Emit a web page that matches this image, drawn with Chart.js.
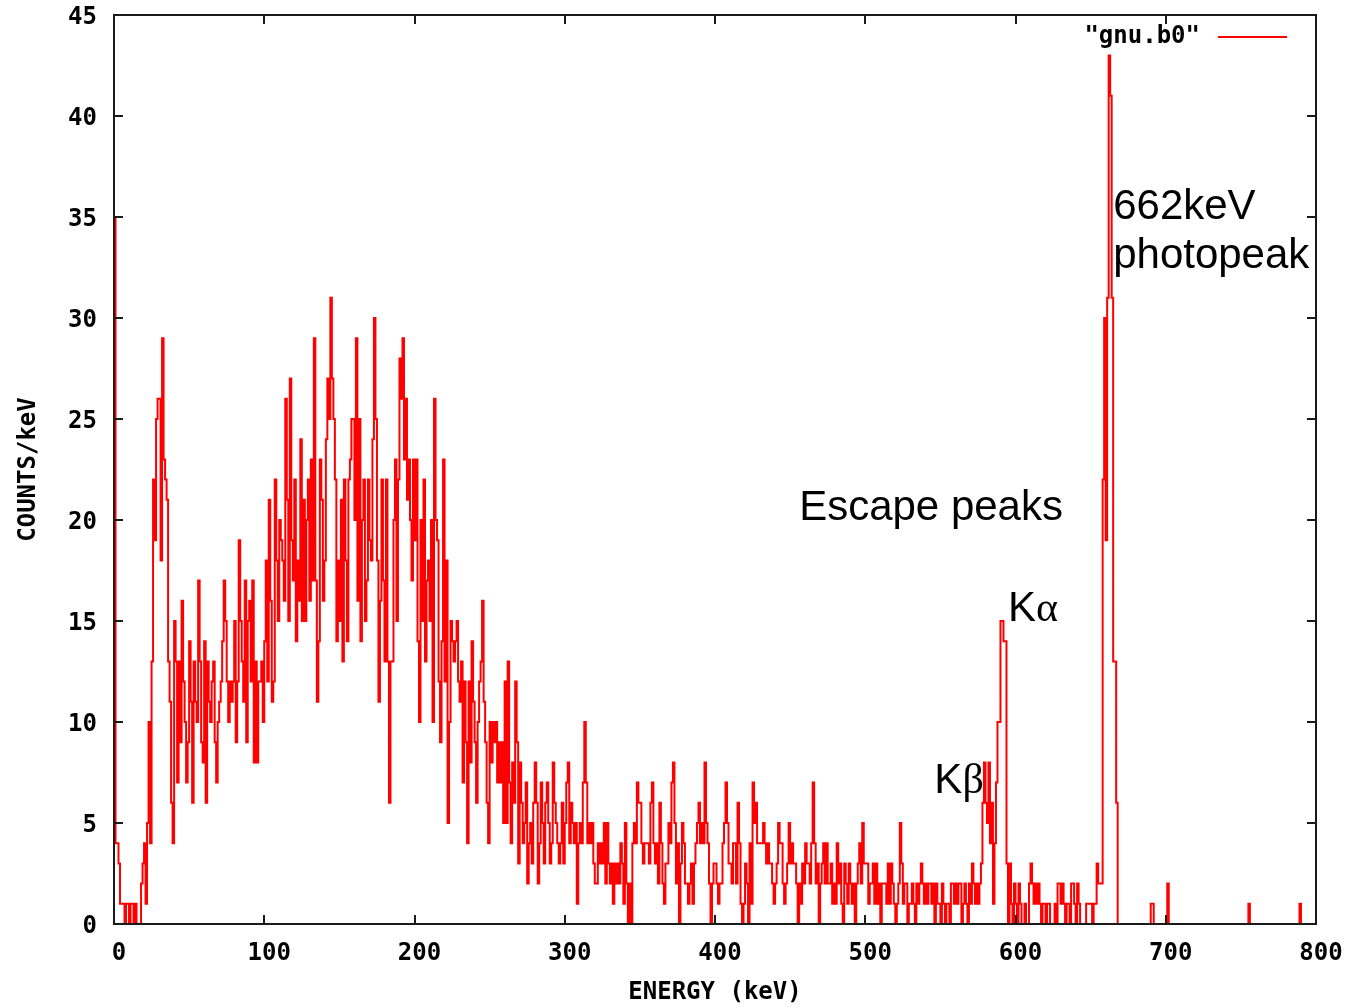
<!DOCTYPE html>
<html>
<head>
<meta charset="utf-8">
<title>gnu.b0 spectrum</title>
<script src="https://cdn.jsdelivr.net/npm/chart.js@4.4.1/dist/chart.umd.min.js"></script>
<style>
html, body { margin: 0; padding: 0; background: #fff; }
#wrap { position: relative; width: 1351px; height: 1008px; }
</style>
</head>
<body>
<div id="wrap"><canvas id="spectrum"></canvas></div>
<script>
"use strict";

const SERIES_LABEL = '"gnu.b0"';
const X_TITLE = "ENERGY (keV)";
const Y_TITLE = "COUNTS/keV";
const X_TICKS = [0, 100, 200, 300, 400, 500, 600, 700, 800];
const Y_TICKS = [0, 5, 10, 15, 20, 25, 30, 35, 40, 45];

// counts per 1 keV bin, one array per 100 keV block
const counts000 = [
    35, 4, 4, 3, 1, 1, 1, 0, 1, 1,
    0, 1, 1, 0, 1, 0, 0, 0, 2, 3,
    4, 1, 5, 10, 4, 13, 22, 19, 25, 26,
    26, 18, 29, 23, 22, 21, 13, 11, 6, 4,
    15, 13, 7, 13, 9, 16, 12, 10, 7, 9,
    14, 11, 6, 13, 11, 10, 17, 13, 9, 8,
    14, 6, 13, 11, 10, 12, 13, 9, 7, 10,
    11, 12, 14, 17, 15, 12, 10, 12, 11, 12,
    15, 9, 12, 19, 15, 13, 11, 17, 9, 15,
    16, 12, 17, 8, 13, 8, 12, 12, 13, 10
];
const counts100 = [
    14, 18, 12, 21, 16, 11, 12, 22, 18, 15,
    20, 19, 18, 16, 26, 21, 15, 27, 19, 17,
    22, 14, 18, 16, 24, 15, 21, 15, 20, 22,
    16, 23, 17, 29, 17, 11, 14, 23, 21, 16,
    18, 24, 27, 25, 31, 27, 25, 22, 14, 18,
    15, 21, 13, 22, 18, 14, 22, 23, 25, 25,
    20, 29, 16, 25, 14, 20, 22, 15, 17, 22,
    19, 18, 24, 30, 25, 18, 11, 16, 22, 17,
    13, 22, 13, 6, 13, 13, 20, 23, 15, 22,
    28, 26, 29, 23, 26, 21, 23, 20, 17, 23
];
const counts200 = [
    19, 23, 14, 10, 20, 15, 22, 13, 17, 18,
    15, 20, 10, 26, 20, 19, 12, 9, 14, 23,
    12, 18, 5, 10, 15, 14, 13, 14, 15, 12,
    11, 13, 7, 12, 9, 4, 12, 8, 14, 11,
    9, 6, 10, 12, 13, 16, 11, 9, 6, 4,
    10, 8, 10, 9, 10, 7, 9, 7, 9, 5,
    12, 5, 13, 7, 4, 8, 6, 12, 9, 3,
    8, 6, 4, 5, 7, 2, 4, 5, 3, 6,
    8, 6, 2, 4, 7, 5, 3, 6, 7, 5,
    3, 4, 8, 6, 5, 4, 3, 4, 6, 3
];
const counts300 = [
    5, 7, 8, 4, 6, 5, 4, 5, 1, 4,
    5, 4, 7, 10, 7, 4, 5, 4, 5, 3,
    2, 2, 4, 3, 4, 3, 5, 2, 5, 3,
    2, 3, 1, 3, 2, 3, 2, 4, 3, 1,
    5, 2, 0, 2, 0, 4, 5, 4, 7, 6,
    6, 4, 3, 4, 4, 4, 3, 6, 7, 4,
    3, 4, 2, 6, 4, 2, 1, 3, 3, 5,
    4, 7, 8, 5, 2, 4, 0, 3, 5, 4,
    2, 2, 1, 2, 3, 1, 3, 4, 5, 6,
    4, 5, 4, 8, 5, 4, 2, 0, 2, 3
];
const counts400 = [
    3, 2, 1, 2, 2, 4, 5, 7, 5, 3,
    3, 2, 4, 4, 2, 6, 4, 1, 0, 1,
    3, 2, 0, 4, 1, 7, 5, 6, 4, 4,
    4, 4, 5, 4, 3, 4, 3, 3, 2, 1,
    2, 3, 5, 4, 4, 2, 1, 2, 3, 5,
    3, 4, 3, 3, 2, 0, 2, 1, 3, 2,
    4, 3, 3, 2, 4, 7, 4, 2, 3, 0,
    2, 3, 4, 2, 4, 2, 2, 3, 1, 2,
    1, 4, 2, 3, 1, 0, 3, 2, 1, 3,
    2, 1, 2, 0, 2, 3, 4, 2, 5, 3
];
const counts500 = [
    3, 3, 1, 2, 2, 3, 1, 3, 1, 2,
    0, 2, 2, 2, 1, 3, 1, 3, 2, 1,
    0, 1, 2, 5, 3, 1, 2, 2, 0, 1,
    1, 2, 1, 0, 2, 1, 2, 3, 2, 1,
    2, 1, 2, 2, 1, 2, 0, 2, 1, 1,
    0, 2, 1, 0, 1, 1, 0, 2, 2, 1,
    2, 1, 2, 2, 0, 1, 2, 1, 0, 2,
    1, 3, 2, 1, 2, 1, 2, 3, 6, 8,
    6, 5, 8, 4, 6, 1, 4, 7, 10, 10,
    15, 15, 14, 14, 3, 0, 3, 1, 0, 2
];
const counts600 = [
    1, 0, 2, 1, 0, 0, 1, 0, 0, 2,
    3, 2, 1, 2, 1, 2, 1, 0, 1, 1,
    0, 1, 1, 0, 0, 0, 1, 0, 2, 2,
    1, 2, 1, 0, 1, 1, 0, 2, 2, 1,
    0, 2, 1, 0, 0, 0, 0, 1, 1, 1,
    1, 0, 1, 1, 3, 2, 2, 2, 22, 30,
    19, 31, 43, 41, 31, 13, 13, 6, 0, 0,
    0, 0, 0, 0, 0, 0, 0, 0, 0, 0,
    0, 0, 0, 0, 0, 0, 0, 0, 0, 0,
    1, 1, 0, 0, 0, 0, 0, 0, 0, 0
];
const counts700 = [
    0, 2, 0, 0, 0, 0, 0, 0, 0, 0,
    0, 0, 0, 0, 0, 0, 0, 0, 0, 0,
    0, 0, 0, 0, 0, 0, 0, 0, 0, 0,
    0, 0, 0, 0, 0, 0, 0, 0, 0, 0,
    0, 0, 0, 0, 0, 0, 0, 0, 0, 0,
    0, 0, 0, 0, 0, 1, 0, 0, 0, 0,
    0, 0, 0, 0, 0, 0, 0, 0, 0, 0,
    0, 0, 0, 0, 0, 0, 0, 0, 0, 0,
    0, 0, 0, 0, 0, 0, 0, 0, 0, 1,
    0, 0, 0, 0, 0, 0, 0, 0, 0, 0
];

const BLOCKS = [
    [0, counts000], [100, counts100], [200, counts200], [300, counts300],
    [400, counts400], [500, counts500], [600, counts600], [700, counts700]
];

const TICK_FONT = { family: "'DejaVu Sans Mono', monospace", size: 24, weight: "bold" };
const NOTE_FONT = "42px 'Liberation Sans', Arial, sans-serif";
const GREEK_FONT = "42px 'Liberation Serif', 'DejaVu Serif', serif";
const TICK_LEN = 9;

// text notes, anchored at (keV, counts) for the left end of the baseline
const NOTES = [
    { parts: [["662keV", NOTE_FONT]], at: [665, 34.9] },
    { parts: [["photopeak", NOTE_FONT]], at: [665, 32.5] },
    { parts: [["Escape peaks", NOTE_FONT]], at: [456, 20.0] },
    { parts: [["K", NOTE_FONT], ["\u03b1", GREEK_FONT]], at: [595, 15.0] },
    { parts: [["K", NOTE_FONT], ["\u03b2", GREEK_FONT]], at: [546, 6.5] }
];

function points() {
    const out = [];
    for (const [start, vals] of BLOCKS) {
        vals.forEach((v, i) => out.push({ x: start + i, y: v }));
    }
    return out;
}

const framePlugin = {
    id: "frame",
    afterDatasetsDraw(chart) {
        const { ctx, chartArea: a, scales: { x, y } } = chart;
        ctx.save();
        ctx.strokeStyle = "#1a1a1a";
        ctx.lineWidth = 2;
        ctx.strokeRect(a.left, a.top, a.right - a.left, a.bottom - a.top);
        ctx.beginPath();
        for (const v of X_TICKS) {
            const px = Math.round(x.getPixelForValue(v));
            ctx.moveTo(px, a.bottom); ctx.lineTo(px, a.bottom - TICK_LEN);
            ctx.moveTo(px, a.top); ctx.lineTo(px, a.top + TICK_LEN);
        }
        for (const v of Y_TICKS) {
            const py = Math.round(y.getPixelForValue(v));
            ctx.moveTo(a.left, py); ctx.lineTo(a.left + TICK_LEN, py);
            ctx.moveTo(a.right, py); ctx.lineTo(a.right - TICK_LEN, py);
        }
        ctx.stroke();
        ctx.restore();
    },
    afterDraw(chart) {
        const { ctx, chartArea: a, scales: { x, y } } = chart;
        ctx.save();
        // key, top right inside the frame
        const ds = chart.data.datasets[0];
        ctx.font = `${TICK_FONT.weight} ${TICK_FONT.size}px ${TICK_FONT.family}`;
        ctx.fillStyle = "#000";
        ctx.textAlign = "right";
        ctx.textBaseline = "middle";
        const ky = a.top + 22;
        ctx.fillText(ds.label, a.right - 116, ky);
        ctx.strokeStyle = ds.borderColor;
        ctx.lineWidth = 2;
        ctx.beginPath();
        ctx.moveTo(a.right - 98, ky);
        ctx.lineTo(a.right - 29, ky);
        ctx.stroke();

        // notes
        ctx.textAlign = "left";
        ctx.textBaseline = "alphabetic";
        for (const n of NOTES) {
            let px = x.getPixelForValue(n.at[0]);
            const py = y.getPixelForValue(n.at[1]);
            for (const [txt, font] of n.parts) {
                ctx.font = font;
                ctx.fillText(txt, px, py);
                px += ctx.measureText(txt).width;
            }
        }
        ctx.restore();
    }
};

document.addEventListener("DOMContentLoaded", () => {
    const ctx = document.getElementById("spectrum").getContext("2d");
    new Chart(ctx, {
        type: "line",
        data: {
            datasets: [{
                label: SERIES_LABEL,
                data: points(),
                borderColor: "#ff0000",
                borderWidth: 2,
                pointRadius: 0,
                stepped: "before",
                fill: false,
                tension: 0
            }]
        },
        options: {
            responsive: true,
            maintainAspectRatio: false,
            animation: false,
            events: [],
            layout: { padding: { left: 0, top: 15, right: 35, bottom: 0 } },
            plugins: { legend: { display: false }, tooltip: { enabled: false } },
            scales: {
                x: {
                    type: "linear",
                    min: 0, max: 800,
                    afterBuildTicks: s => { s.ticks = X_TICKS.map(v => ({ value: v })); },
                    afterFit: s => { s.height = 84; s.paddingLeft = 0; s.paddingRight = 0; },
                    grid: { display: false, drawTicks: false },
                    border: { display: false },
                    ticks: { font: TICK_FONT, color: "#000", padding: 15, maxRotation: 0, autoSkip: false, labelOffset: 5 },
                    title: { display: true, text: X_TITLE, font: TICK_FONT, color: "#000", padding: { top: 0, bottom: 1 } }
                },
                y: {
                    type: "linear",
                    min: 0, max: 45,
                    afterBuildTicks: s => { s.ticks = Y_TICKS.map(v => ({ value: v })); },
                    afterFit: s => { s.width = 114; s.paddingTop = 0; s.paddingBottom = 0; },
                    grid: { display: false, drawTicks: false },
                    border: { display: false },
                    ticks: { font: TICK_FONT, color: "#000", padding: 17, autoSkip: false, labelOffset: 3 },
                    title: { display: true, text: Y_TITLE, font: TICK_FONT, color: "#000", padding: { top: 14, bottom: 0 } }
                }
            }
        },
        plugins: [framePlugin]
    });
});
</script>
</body>
</html>
